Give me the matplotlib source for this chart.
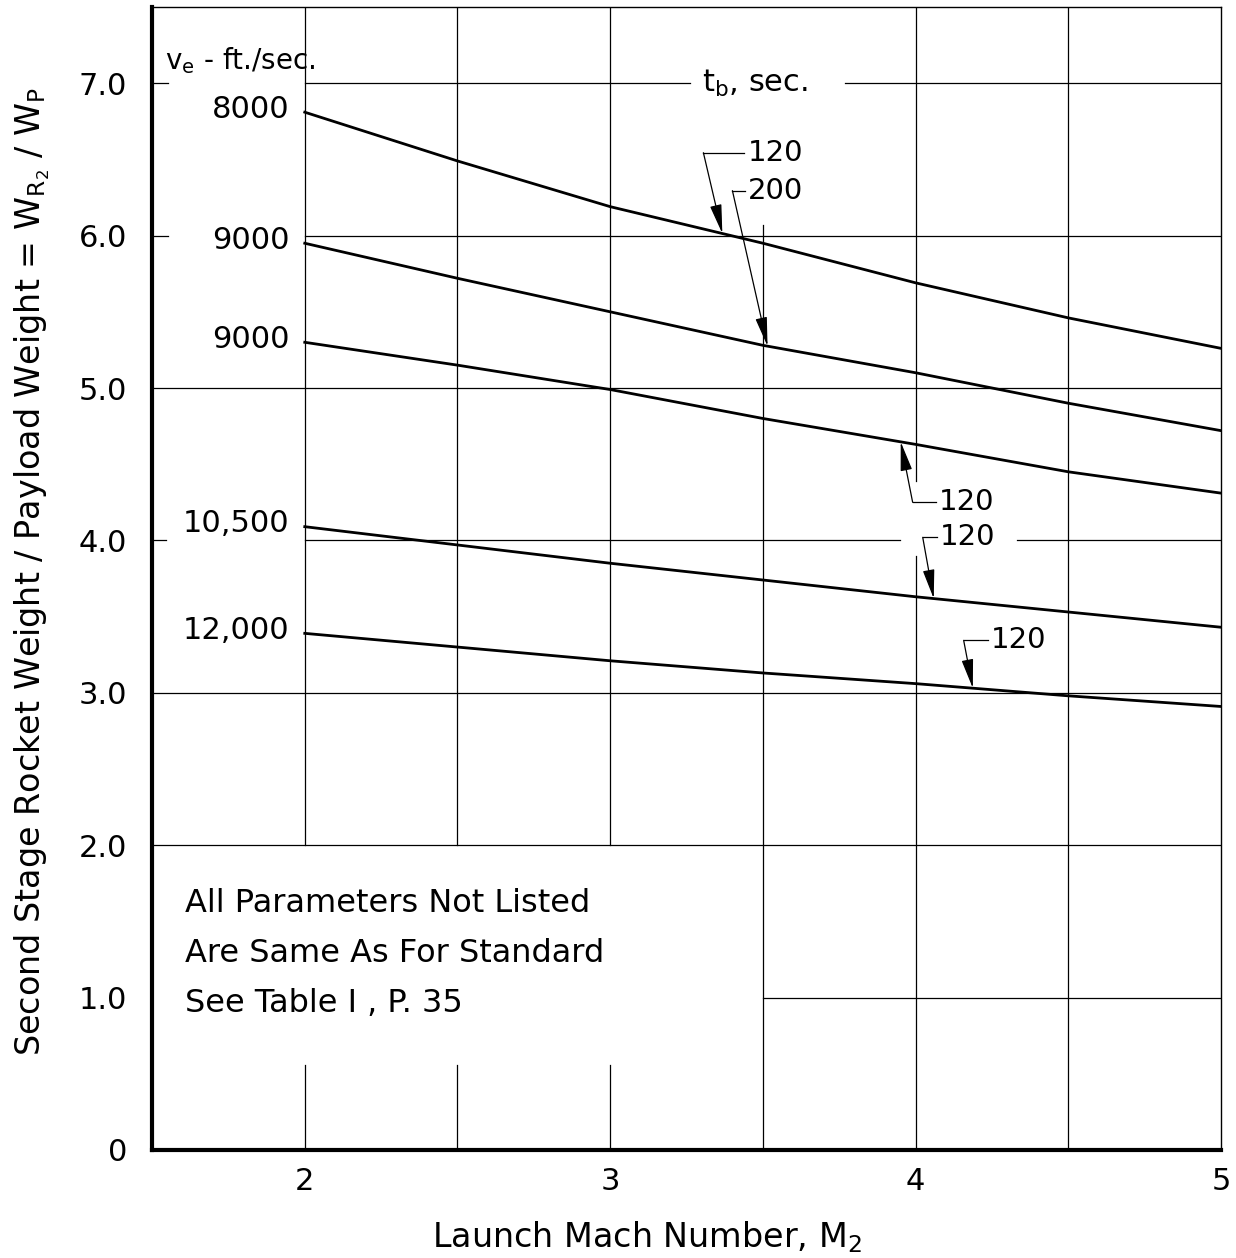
import numpy as np
import matplotlib
matplotlib.use("Agg")
import matplotlib.pyplot as plt

## Data ########################

mach = [2.0, 2.5, 3.0, 3.5, 4.0, 4.5, 5.0]

# weight ratio W_R2 / W_P for each exhaust velocity / burning time
ve8000_tb120 = [6.81, 6.49, 6.19, 5.95, 5.69, 5.46, 5.26]
ve9000_tb200 = [5.95, 5.72, 5.50, 5.28, 5.10, 4.90, 4.72]
ve9000_tb120 = [5.30, 5.15, 4.99, 4.80, 4.63, 4.45, 4.31]
ve10500_tb120 = [4.09, 3.97, 3.85, 3.74, 3.63, 3.53, 3.43]
ve12000_tb120 = [3.39, 3.30, 3.21, 3.13, 3.06, 2.98, 2.91]

curves = [ve8000_tb120, ve9000_tb200, ve9000_tb120, ve10500_tb120, ve12000_tb120]
ve_labels = ["8000", "9000", "9000", "10,500", "12,000"]
tb_labels = ["120", "200", "120", "120", "120"]

x_ticks = [2, 3, 4, 5]
y_ticks = [0, 1, 2, 3, 4, 5, 6, 7]
y_ticklabels = ["0", "1.0", "2.0", "3.0", "4.0", "5.0", "6.0", "7.0"]

## Figure ########################

plt.rcParams["font.family"] = ["DejaVu Sans"]
plt.rcParams["mathtext.fontset"] = "dejavusans"

fig = plt.figure(figsize=(12.36, 12.58), dpi=100)
ax = fig.add_axes([0.123, 0.0859, 0.865, 0.9085])
ax.set_xlim(1.5, 5.0)
ax.set_ylim(0, 7.5)

lw_grid = 0.9
gc = "black"

# horizontal grid segments (y, x0, x1)
hgrid = [
    (7.0, 1.5, 1.552), (7.0, 2.0, 3.26), (7.0, 3.77, 5.0),
    (6.0, 1.5, 1.552), (6.0, 2.0, 5.0),
    (5.0, 1.5, 5.0),
    (4.0, 1.5, 1.545), (4.0, 2.0, 3.95), (4.0, 4.33, 5.0),
    (3.0, 1.5, 5.0),
    (2.0, 1.5, 5.0),
    (1.0, 3.5, 5.0),
]
for y, x0, x1 in hgrid:
    ax.plot([x0, x1], [y, y], color=gc, lw=lw_grid, zorder=1)

# vertical grid segments (x, y0, y1)
vgrid = [
    (2.0, 2.0, 7.5), (2.0, 0, 0.56),
    (2.5, 2.0, 7.5), (2.5, 0, 0.56),
    (3.0, 2.0, 7.5), (3.0, 0, 0.56),
    (3.5, 0, 6.07),
    (4.0, 0, 3.90), (4.0, 4.39, 7.5),
    (4.5, 0, 7.5),
]
for x, y0, y1 in vgrid:
    ax.plot([x, x], [y0, y1], color=gc, lw=lw_grid, zorder=1)

# curves
for vals in curves:
    ax.plot(mach, vals, color="black", lw=2.0, zorder=3)

# exhaust velocity labels at the left end of each curve
for vals, lab in zip(curves, ve_labels):
    ax.text(1.95, vals[0] + 0.02, lab, ha="right", va="center", fontsize=22)

ax.text(1.541, 7.15, "v$_\\mathregular{e}$ - ft./sec.", ha="left", va="center", fontsize=20)
ax.text(3.30, 7.0, "t$_\\mathregular{b}$, sec.", ha="left", va="center", fontsize=22)

# burning time labels with leader arrows: text pos, corner x, (tip x, curve)
leaders = [
    ((3.449, 6.544), 3.305, (3.367, ve8000_tb120)),
    ((3.452, 6.295), 3.40, (3.515, ve9000_tb200)),
    ((4.075, 4.25), 3.99, (3.951, ve9000_tb120)),
    ((4.080, 4.02), 4.023, (4.059, ve10500_tb120)),
    ((4.246, 3.344), 4.157, (4.187, ve12000_tb120)),
]
for ((tx, ty), cx, (px, vals)), lab in zip(leaders, tb_labels):
    py = np.interp(px, mach, vals)
    ax.text(tx, ty, lab, ha="left", va="center", fontsize=21)
    ax.plot([tx - 0.01, cx], [ty, ty], color="black", lw=0.9)
    ax.annotate("", xy=(px, py), xytext=(cx, ty),
                arrowprops=dict(arrowstyle="-|>,head_length=0.9,head_width=0.18",
                                color="black", lw=0.9, shrinkA=0, shrinkB=0,
                                mutation_scale=20))

# note box
note = ["All Parameters Not Listed", "Are Same As For Standard", "See Table I , P. 35"]
for i, line in enumerate(note):
    ax.text(1.607, 1.62 - i * 0.33, line, ha="left", va="center", fontsize=23)

## Axes styling ########################

for side in ["left", "bottom"]:
    ax.spines[side].set_linewidth(3.0)
for side in ["top", "right"]:
    ax.spines[side].set_linewidth(1.0)

ax.set_xticks(x_ticks)
ax.set_xticklabels([str(v) for v in x_ticks])
ax.set_yticks(y_ticks)
ax.set_yticklabels(y_ticklabels)
ax.tick_params(axis="both", length=0, labelsize=22)
ax.tick_params(axis="y", pad=18)
ax.tick_params(axis="x", pad=12)

ax.set_xlabel("Launch Mach Number, M$_\\mathregular{2}$", fontsize=24, va="center")
ax.xaxis.set_label_coords(0.463, -0.076)
ax.set_ylabel("Second Stage Rocket Weight / Payload Weight = W$_{\\mathregular{R_2}}$ / W$_\\mathregular{P}$",
              fontsize=24, va="center")
ax.yaxis.set_label_coords(-0.112, 0.506)

fig.savefig("out.png", dpi=100)
